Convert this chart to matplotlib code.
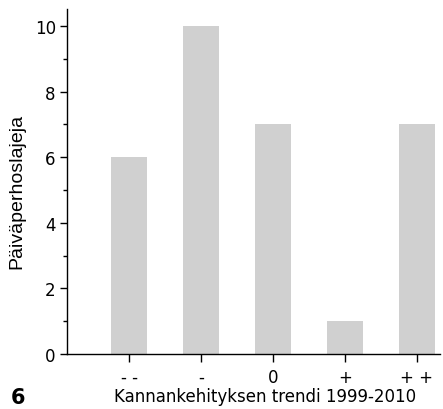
import matplotlib
matplotlib.use("Agg")
import matplotlib.pyplot as plt
from matplotlib.ticker import MultipleLocator

# Data
trend_labels = ["- -", "-", "0", "+", "+ +"]
species_counts = [6, 10, 7, 1, 7]

fig = plt.figure(figsize=(4.43, 4.10), dpi=100)
ax = fig.add_axes([0.151, 0.134, 0.842, 0.842])

x = range(len(species_counts))
ax.bar(x, species_counts, width=0.5, color="#d0d0d0", zorder=1)

ax.set_xlim(-0.87, 4.32)
ax.set_ylim(0, 10.52)

# Spines
ax.spines["top"].set_visible(False)
ax.spines["right"].set_visible(False)
ax.spines["left"].set_linewidth(1.0)
ax.spines["bottom"].set_linewidth(1.0)
ax.spines["bottom"].set_zorder(3)

# Ticks
ax.yaxis.set_major_locator(MultipleLocator(2))
ax.yaxis.set_minor_locator(MultipleLocator(1))
ax.tick_params(axis="y", which="major", length=5, width=1, labelsize=12, pad=3)
ax.tick_params(axis="y", which="minor", length=3, width=1)
ax.set_xticks(list(x))
ax.set_xticklabels(trend_labels)
ax.tick_params(axis="x", which="major", length=6, width=1, labelsize=12, pad=4)

ax.set_ylabel("Päiväperhoslajeja", family="Liberation Sans", fontsize=14)
ax.yaxis.set_label_coords(-0.112, 0.475)
ax.set_xlabel("Kannankehityksen trendi 1999-2010", fontsize=12)
ax.xaxis.set_label_coords(0.53, -0.095)

fig.text(0.04, 0.03, "6", fontsize=15, fontweight="bold", ha="center", va="center")

fig.savefig("out.png", dpi=100)
